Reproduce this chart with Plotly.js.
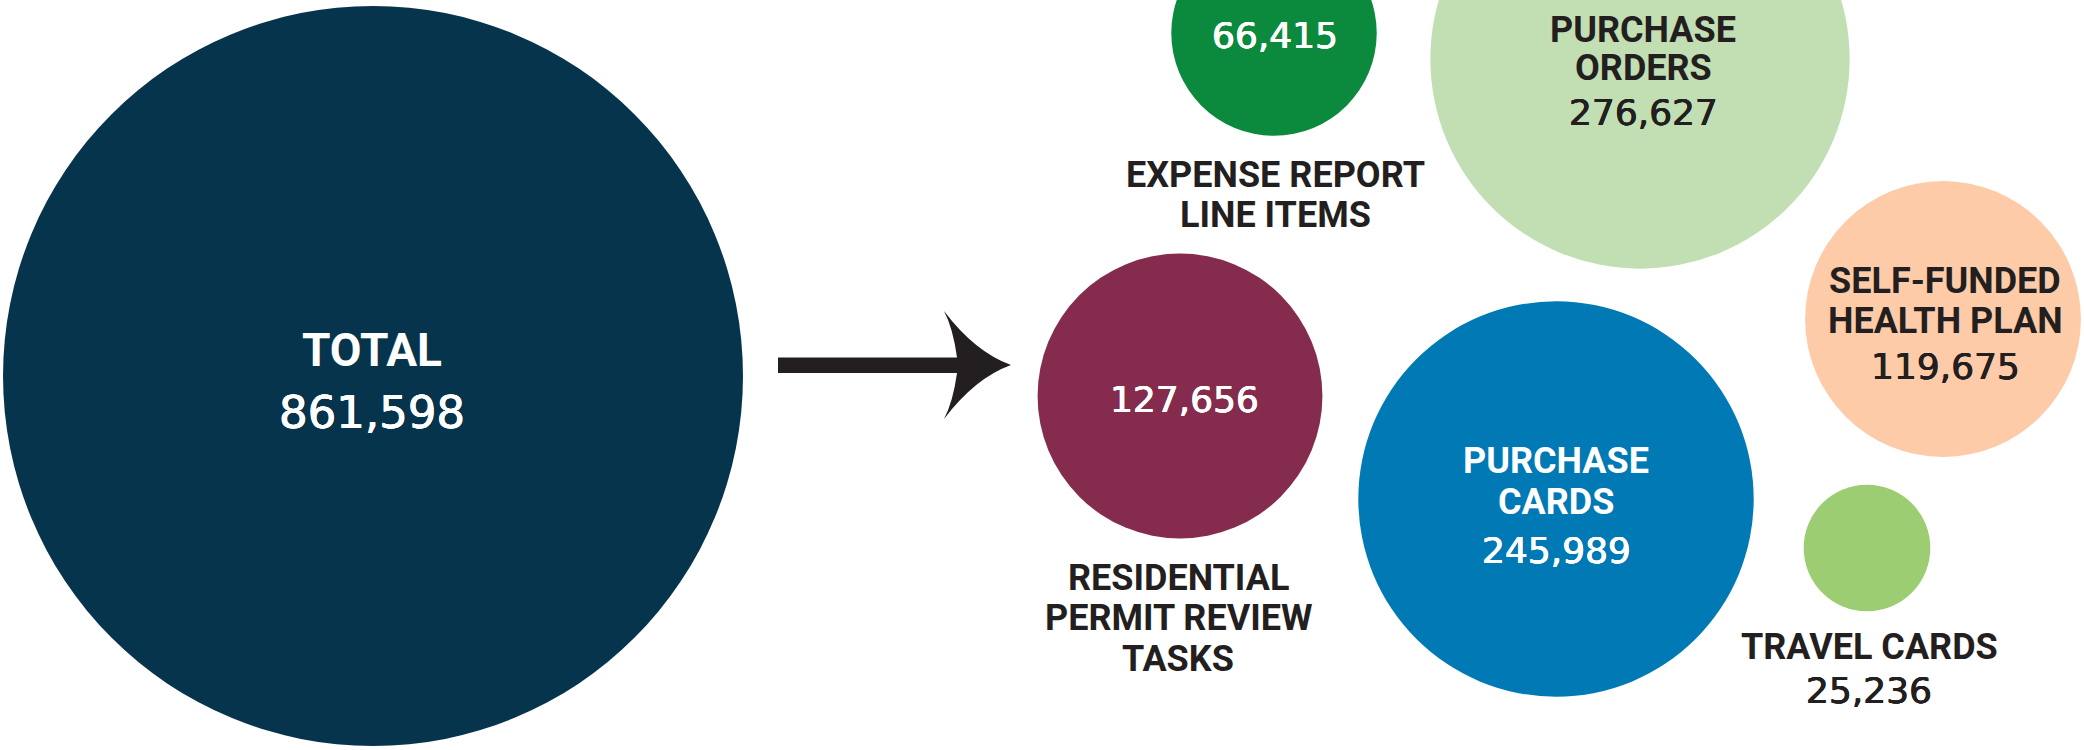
<!DOCTYPE html>
<html>
<head>
<meta charset="utf-8">
<script src="https://cdn.plot.ly/plotly-3.0.1.min.js"></script>
<style>
  html, body { margin: 0; padding: 0; background: #ffffff; }
  #chart { width: 2084px; height: 750px; }
</style>
</head>
<body>
<div id="chart"></div>
<script>
// ---- data ----
const categories = ['TOTAL', 'EXPENSE REPORT LINE ITEMS', 'PURCHASE ORDERS', 'SELF-FUNDED HEALTH PLAN',
                    'RESIDENTIAL PERMIT REVIEW TASKS', 'PURCHASE CARDS', 'TRAVEL CARDS'];
const values = [861598, 66415, 276627, 119675, 127656, 245989, 25236];
const labelLines = [
  ['TOTAL'],
  ['EXPENSE REPORT', 'LINE ITEMS'],
  ['PURCHASE', 'ORDERS'],
  ['SELF-FUNDED', 'HEALTH PLAN'],
  ['RESIDENTIAL', 'PERMIT REVIEW', 'TASKS'],
  ['PURCHASE', 'CARDS'],
  ['TRAVEL CARDS']
];

// ---- styles ----
const bubbleColors = ['#06344c', '#0b8a3e', '#c2deb3', '#fdcba8', '#852c4e', '#0079b4', '#9dcd72'];
const textColors   = ['#ffffff', '#ffffff', '#231f20', '#231f20', '#ffffff', '#ffffff', '#231f20'];
const DARK = '#231f20';

// ---- layout (positions in the pixel frame of the page) ----
const centersX = [373, 1274, 1640, 1943, 1180, 1556, 1867];
const centersY = [376, 33, 59, 319, 396, 499, 548];
const labelX  = [372, 1275, 1643, 1945, 1178, 1556, 1869];
const labelY  = [[350], [175, 215], [30, 68], [281, 321], [578, 618, 659], [461, 502], [647]];
const labelInside = [true, false, true, true, false, true, false];
const valueX  = [372, 1275, 1643, 1945, 1184, 1556, 1869];
const valueY  = [412, 35, 112, 366, 399, 550, 690];
const valueInside = [true, true, true, true, true, true, false];
const labelSize = [46, 36, 36, 36, 36, 36, 36];
const valueSize = [45, 36, 36, 36, 36, 36, 36];

const LABEL_FONT = 'Roboto, "Liberation Sans", sans-serif';
const VALUE_FONT = '"DejaVu Sans", "Liberation Sans", sans-serif';

function thicken(c) {
  return '0.4px 0 0 ' + c + ', -0.4px 0 0 ' + c + ', 0 0.3px 0 ' + c;
}

const trace = {
  type: 'scatter',
  mode: 'markers',
  x: centersX,
  y: centersY,
  text: categories,
  cliponaxis: false,
  hoverinfo: 'text',
  marker: {
    size: values,
    sizemode: 'area',
    sizeref: 3.147,
    color: bubbleColors,
    opacity: 1,
    line: { width: 0 }
  },
  showlegend: false
};

const annotations = [];
labelLines.forEach((lines, i) => {
  lines.forEach((ln, j) => {
    annotations.push({
      x: labelX[i], y: labelY[i][j], xref: 'x', yref: 'y',
      text: ln, showarrow: false, xanchor: 'center', yanchor: 'middle',
      font: { family: LABEL_FONT, size: labelSize[i], weight: 700,
              color: labelInside[i] ? textColors[i] : DARK }
    });
  });
  const vc = valueInside[i] ? textColors[i] : DARK;
  annotations.push({
    x: valueX[i], y: valueY[i], xref: 'x', yref: 'y',
    text: values[i].toLocaleString('en-US'), showarrow: false,
    xanchor: 'center', yanchor: 'middle',
    font: { family: VALUE_FONT, size: valueSize[i], weight: 400, color: vc, shadow: thicken(vc) }
  });
});

const arrowPath = 'M 778,357.5 L 957,357.5 Q 953,328 944,311 Q 975,352 1011,365 ' +
                  'Q 975,378 944,419 Q 953,402 957,373 L 778,373 Z';

const layout = {
  width: 2084, height: 750,
  margin: { l: 0, r: 0, t: 0, b: 0, pad: 0 },
  paper_bgcolor: '#ffffff', plot_bgcolor: '#ffffff',
  xaxis: { range: [0, 2084], visible: false, fixedrange: true },
  yaxis: { range: [750, 0], visible: false, fixedrange: true },
  showlegend: false,
  annotations: annotations,
  shapes: [{
    type: 'path', xref: 'x', yref: 'y', path: arrowPath,
    fillcolor: DARK, line: { width: 0 }, layer: 'above'
  }]
};

Plotly.newPlot('chart', [trace], layout, { displayModeBar: false, staticPlot: true });
</script>
</body>
</html>
